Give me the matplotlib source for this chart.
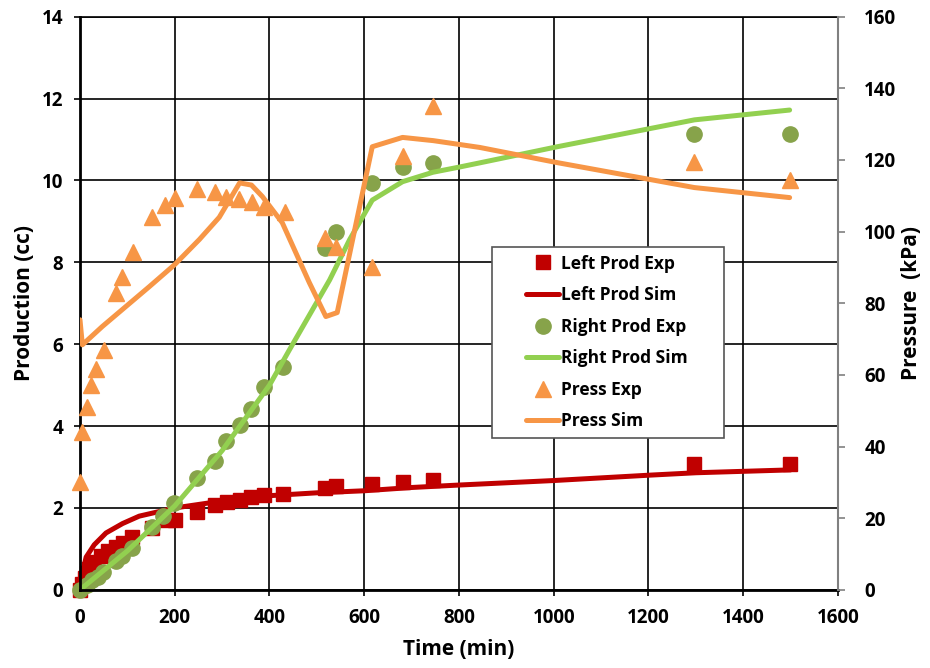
import matplotlib.pyplot as plt
from matplotlib.patches import Rectangle

plt.rcParams['font.family'] = ['Open Sans', 'DejaVu Sans']
plt.rcParams['font.weight'] = 'bold'

## Left production, experiment (cc)
left_exp_t = [0, 5, 10, 15, 20, 30, 45, 60, 75, 90, 110, 153, 184, 200, 248, 284,
              311, 337, 362, 389, 429, 518, 541, 617, 681, 746, 1297, 1498]
left_exp_v = [0.0, 0.15, 0.3, 0.42, 0.52, 0.68, 0.82, 0.95, 1.05, 1.15, 1.28, 1.51,
              1.71, 1.7, 1.9, 2.08, 2.15, 2.2, 2.27, 2.32, 2.34, 2.49, 2.54, 2.59,
              2.64, 2.69, 3.08, 3.08]

## Left production, simulation (cc)
left_sim_t = [0, 5, 13, 30, 55, 90, 125, 200, 300, 400, 500, 600, 700, 800, 1000,
              1200, 1300, 1500]
left_sim_v = [0.0, 0.4, 0.8, 1.1, 1.39, 1.62, 1.8, 2.0, 2.17, 2.3, 2.37, 2.42, 2.5,
              2.56, 2.67, 2.8, 2.86, 2.93]

## Right production, experiment (cc)
right_exp_t = [0, 15, 26, 37, 49, 77, 89, 110, 153, 176, 199, 248, 284, 309, 337,
               362, 389, 429, 518, 541, 617, 681, 746, 1297, 1498]
right_exp_v = [0.0, 0.12, 0.24, 0.32, 0.44, 0.71, 0.83, 1.03, 1.54, 1.81, 2.12, 2.73,
               3.15, 3.64, 4.03, 4.42, 4.96, 5.45, 8.35, 8.74, 9.94, 10.33, 10.43,
               11.14, 11.14]

## Right production, simulation (cc)
right_sim_t = [0, 100, 200, 300, 400, 442, 527, 569, 617, 681, 745, 802, 844, 1006,
               1297, 1498]
right_sim_v = [0.0, 0.95, 2.05, 3.4, 5.0, 5.86, 7.57, 8.55, 9.52, 9.97, 10.2, 10.33,
               10.43, 10.82, 11.48, 11.72]

## Pressure, experiment (kPa)
press_exp_t = [0, 5, 14, 23, 34, 50, 77, 89, 111, 153, 179, 200, 248, 285, 308, 336,
               363, 389, 433, 518, 541, 617, 681, 746, 1297, 1498]
press_exp_v = [30, 44, 51, 57.3, 61.7, 67, 83, 87.4, 94.4, 104.2, 107.5, 109.5, 112,
               111.2, 109.8, 109.2, 108.4, 107, 105.6, 98.3, 95.8, 90, 121, 135,
               119.5, 114.5]

## Pressure, simulation (kPa)
press_sim_t = [0, 5, 47, 146, 200, 252, 294, 337, 362, 385, 427, 484, 519, 543, 617,
               681, 746, 844, 1006, 1297, 1498]
press_sim_v = [75.4, 68.4, 73.5, 84.6, 90.8, 97.8, 104, 113.6, 113, 109.8, 102.5,
               85.8, 76.3, 77.4, 123.7, 126.3, 125.4, 123.5, 119.3, 112.3, 109.5]

red = '#C00000'
green_line = '#92D050'
green_mark = '#87A34A'
orange = '#F79646'

fig, ax = plt.subplots(figsize=(9.3, 6.68), dpi=100)
fig.subplots_adjust(left=0.086, right=0.901, bottom=0.117, top=0.975)

h1, = ax.plot(left_exp_t, left_exp_v, 's', color=red, ms=10, ls='none',
              clip_on=False, label='Left Prod Exp')
h2, = ax.plot(left_sim_t, left_sim_v, '-', color=red, lw=3.6,
              solid_capstyle='round', label='Left Prod Sim')
h3, = ax.plot(right_exp_t, right_exp_v, 'o', color=green_mark, ms=11, ls='none',
              clip_on=False, label='Right Prod Exp')
h4, = ax.plot(right_sim_t, right_sim_v, '-', color=green_line, lw=3.6,
              solid_capstyle='round', label='Right Prod Sim')

ax.set_xlim(0, 1600)
ax.set_ylim(0, 14)
ax.set_xticks(range(0, 1601, 200))
ax.set_yticks(range(0, 15, 2))
ax.grid(True, color='black', lw=1.2)
ax.set_axisbelow(True)
ax.set_xlabel('Time (min)', fontsize=15, fontweight='bold', labelpad=8)
ax.set_ylabel('Production (cc)', fontsize=15, fontweight='bold', labelpad=5)
ax.tick_params(axis='x', labelsize=13.5, length=4, width=1.2, pad=9)
ax.tick_params(axis='y', labelsize=13.5, length=4, width=1.2, pad=8)
ax.spines['left'].set_linewidth(2)
ax.spines['bottom'].set_linewidth(2)
ax.spines['top'].set_linewidth(1.2)
ax.spines['right'].set_visible(False)

ax2 = ax.twinx()
h5, = ax2.plot(press_exp_t, press_exp_v, '^', color=orange, ms=11, ls='none',
               clip_on=False, label='Press Exp')
h6, = ax2.plot(press_sim_t, press_sim_v, '-', color=orange, lw=3.6,
               solid_capstyle='round', label='Press Sim')
ax2.set_ylim(0, 160)
ax2.set_yticks(range(0, 161, 20))
ax2.set_ylabel('Pressure  (kPa)', fontsize=15, fontweight='bold', labelpad=3)
ax2.tick_params(labelsize=13.5, length=5, width=1.2, pad=14, color='#808080')
for side in ['left', 'bottom', 'top']:
    ax2.spines[side].set_visible(False)
ax2.spines['right'].set_color('#808080')
ax2.spines['right'].set_linewidth(1.5)

## legend box drawn separately so it can be wider than the entries
box = Rectangle((0.544, 0.265), 0.306, 0.334, transform=ax2.transAxes,
                facecolor='white', edgecolor='#555555', lw=1.2, zorder=4)
ax2.add_patch(box)
leg = ax2.legend(handles=[h1, h2, h3, h4, h5, h6], loc='upper left',
                 bbox_to_anchor=(0.589, 0.585), fontsize=12.5, frameon=False,
                 handlelength=1.9, handletextpad=0.1, labelspacing=0.78,
                 borderpad=0, borderaxespad=0)
leg.set_zorder(5)

plt.savefig('out.png')
